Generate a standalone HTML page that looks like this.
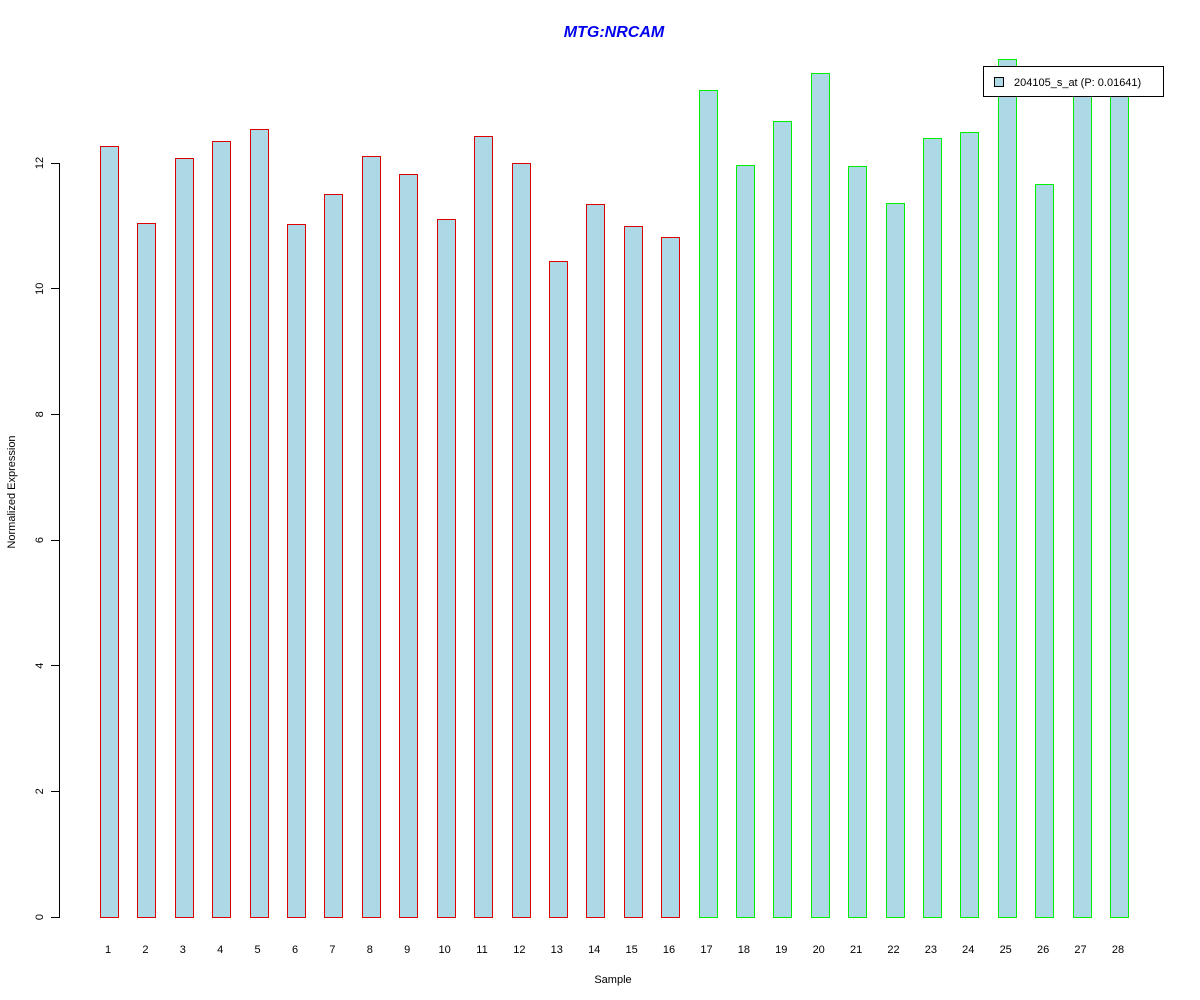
<!DOCTYPE html>
<html><head><style>body{margin:0;background:#fff}svg{display:block}</style></head><body>
<svg width="1200" height="1000" xmlns="http://www.w3.org/2000/svg" font-family="Liberation Sans, Arial, sans-serif" shape-rendering="crispEdges">
<rect width="1200" height="1000" fill="#fff"/>
<text x="614" y="37" text-anchor="middle" font-size="16" font-weight="bold" font-style="italic" fill="#0000ee">MTG:NRCAM</text>
<g fill="#dd0000">
<rect x="100" y="146" width="19" height="772"/>
<rect x="137" y="223" width="19" height="695"/>
<rect x="175" y="158" width="19" height="760"/>
<rect x="212" y="141" width="19" height="777"/>
<rect x="250" y="129" width="19" height="789"/>
<rect x="287" y="224" width="19" height="694"/>
<rect x="324" y="194" width="19" height="724"/>
<rect x="362" y="156" width="19" height="762"/>
<rect x="399" y="174" width="19" height="744"/>
<rect x="437" y="219" width="19" height="699"/>
<rect x="474" y="136" width="19" height="782"/>
<rect x="512" y="163" width="19" height="755"/>
<rect x="549" y="261" width="19" height="657"/>
<rect x="586" y="204" width="19" height="714"/>
<rect x="624" y="226" width="19" height="692"/>
<rect x="661" y="237" width="19" height="681"/>
</g>
<g fill="#00ee00">
<rect x="699" y="90" width="19" height="828"/>
<rect x="736" y="165" width="19" height="753"/>
<rect x="773" y="121" width="19" height="797"/>
<rect x="811" y="73" width="19" height="845"/>
<rect x="848" y="166" width="19" height="752"/>
<rect x="886" y="203" width="19" height="715"/>
<rect x="923" y="138" width="19" height="780"/>
<rect x="960" y="132" width="19" height="786"/>
<rect x="998" y="59" width="19" height="859"/>
<rect x="1035" y="184" width="19" height="734"/>
<rect x="1073" y="88" width="19" height="830"/>
<rect x="1110" y="95" width="19" height="823"/>
</g>
<g fill="#add8e6">
<rect x="101" y="147" width="17" height="770"/>
<rect x="138" y="224" width="17" height="693"/>
<rect x="176" y="159" width="17" height="758"/>
<rect x="213" y="142" width="17" height="775"/>
<rect x="251" y="130" width="17" height="787"/>
<rect x="288" y="225" width="17" height="692"/>
<rect x="325" y="195" width="17" height="722"/>
<rect x="363" y="157" width="17" height="760"/>
<rect x="400" y="175" width="17" height="742"/>
<rect x="438" y="220" width="17" height="697"/>
<rect x="475" y="137" width="17" height="780"/>
<rect x="513" y="164" width="17" height="753"/>
<rect x="550" y="262" width="17" height="655"/>
<rect x="587" y="205" width="17" height="712"/>
<rect x="625" y="227" width="17" height="690"/>
<rect x="662" y="238" width="17" height="679"/>
<rect x="700" y="91" width="17" height="826"/>
<rect x="737" y="166" width="17" height="751"/>
<rect x="774" y="122" width="17" height="795"/>
<rect x="812" y="74" width="17" height="843"/>
<rect x="849" y="167" width="17" height="750"/>
<rect x="887" y="204" width="17" height="713"/>
<rect x="924" y="139" width="17" height="778"/>
<rect x="961" y="133" width="17" height="784"/>
<rect x="999" y="60" width="17" height="857"/>
<rect x="1036" y="185" width="17" height="732"/>
<rect x="1074" y="89" width="17" height="828"/>
<rect x="1111" y="96" width="17" height="821"/>
</g>
<g fill="#000">
<rect x="59" y="163" width="1" height="755"/>
<rect x="51" y="917" width="8" height="1"/><rect x="51" y="791" width="8" height="1"/><rect x="51" y="665" width="8" height="1"/><rect x="51" y="540" width="8" height="1"/><rect x="51" y="414" width="8" height="1"/><rect x="51" y="288" width="8" height="1"/><rect x="51" y="163" width="8" height="1"/>
</g>
<g font-size="11" text-anchor="middle" fill="#000">
<text transform="translate(43,917) rotate(-90)">0</text>
<text transform="translate(43,791.3) rotate(-90)">2</text>
<text transform="translate(43,665.7) rotate(-90)">4</text>
<text transform="translate(43,540) rotate(-90)">6</text>
<text transform="translate(43,414.3) rotate(-90)">8</text>
<text transform="translate(43,288.7) rotate(-90)">10</text>
<text transform="translate(43,163) rotate(-90)">12</text>
<text transform="translate(15,492) rotate(-90)">Normalized Expression</text>
<text x="613" y="983">Sample</text>
</g>
<g font-size="11" text-anchor="middle" fill="#000">
<text x="108" y="953">1</text><text x="145.4" y="953">2</text><text x="182.8" y="953">3</text><text x="220.2" y="953">4</text><text x="257.6" y="953">5</text><text x="295" y="953">6</text><text x="332.4" y="953">7</text><text x="369.8" y="953">8</text><text x="407.2" y="953">9</text><text x="444.6" y="953">10</text><text x="482" y="953">11</text><text x="519.4" y="953">12</text><text x="556.8" y="953">13</text><text x="594.2" y="953">14</text><text x="631.6" y="953">15</text><text x="669" y="953">16</text><text x="706.5" y="953">17</text><text x="743.9" y="953">18</text><text x="781.3" y="953">19</text><text x="818.7" y="953">20</text><text x="856.1" y="953">21</text><text x="893.5" y="953">22</text><text x="930.9" y="953">23</text><text x="968.3" y="953">24</text><text x="1005.7" y="953">25</text><text x="1043.1" y="953">26</text><text x="1080.5" y="953">27</text><text x="1118" y="953">28</text>
</g>
<rect x="983" y="66" width="181" height="31" fill="#000"/>
<rect x="984" y="67" width="179" height="29" fill="#fff"/>
<rect x="994" y="77" width="10" height="10" fill="#000"/>
<rect x="995" y="78" width="8" height="8" fill="#add8e6"/>
<text x="1014" y="86" font-size="11">204105_s_at (P: 0.01641)</text>
</svg>
</body></html>
